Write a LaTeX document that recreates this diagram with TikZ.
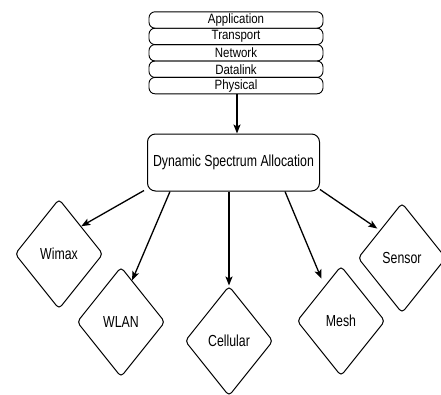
\documentclass[tikz,border=0pt]{standalone}
\usepackage{fontspec}
\setmainfont{Liberation Sans}
\newfontfamily\layerfont[FakeStretch=0.85]{Liberation Sans}
\newfontfamily\boxfont[FakeStretch=0.77]{Liberation Sans}
\usetikzlibrary{shapes.geometric,arrows.meta,calc}

\begin{document}
\begin{tikzpicture}[x=1pt,y=-1pt,
  layer/.style={draw, line width=0.9pt, rounded corners=6pt,
    minimum width=174pt, minimum height=16.4pt, inner sep=0pt,
    font=\layerfont\fontsize{13.5}{14}\selectfont},
  dsabox/.style={draw, line width=1pt, rounded corners=8pt,
    minimum width=172pt, minimum height=57pt, inner sep=0pt,
    font=\boxfont\fontsize{16}{18}\selectfont},
  net/.style={diamond, draw, line width=1pt, rounded corners=4pt,
    minimum width=88pt, minimum height=110pt, inner sep=0pt,
    font=\boxfont\fontsize{16}{18}\selectfont},
  link/.style={line width=1.3pt,
    -{Stealth[length=9pt,width=7pt,inset=2pt]}}]
\useasboundingbox (0,0) rectangle (441,394);

% protocol stack
\node[layer] (app)  at (236,20.0) {Application};
\node[layer] (tra)  at (236,36.4) {Transport};
\node[layer] (netw) at (236,52.8) {Network};
\node[layer] (dl)   at (236,69.2) {Datalink};
\node[layer] (phy)  at (236,85.6) {Physical};

% allocation block
\node[dsabox] (dsa) at (233.5,162.5) {Dynamic Spectrum Allocation};

% access networks
\node[net] (wimax) at (59,254)  {Wimax};
\node[net] (wlan)  at (121,322) {WLAN};
\node[net] (cell)  at (229,341) {Cellular};
\node[net] (mesh)  at (341,321) {Mesh};
\node[net] (sens)  at (402,258) {Sensor};

% point on the upper-left edge of the mesh diamond
\coordinate (meshhit) at ($(mesh.north)!0.37!(mesh.west)$);

% connectors
\draw[link] (phy.south -| 237,0) -- (dsa.north -| 237,0);
\draw[link] ($(dsa.south west)+(-3,-1)$) -- (wimax.north east);
\draw[link] ($(dsa.south west)+(23,0)$) -- ($(wlan.north)!0.25!(wlan.east)$);
\draw[link] (dsa.south -| cell.north) -- (cell.north);
\draw[link, shorten >=8pt] ($(dsa.south west)+(138,0)$) -- (meshhit);
\draw[link, shorten >=3pt] ($(dsa.south east)+(0,-2)$) -- (sens.north west);
\end{tikzpicture}
\end{document}
